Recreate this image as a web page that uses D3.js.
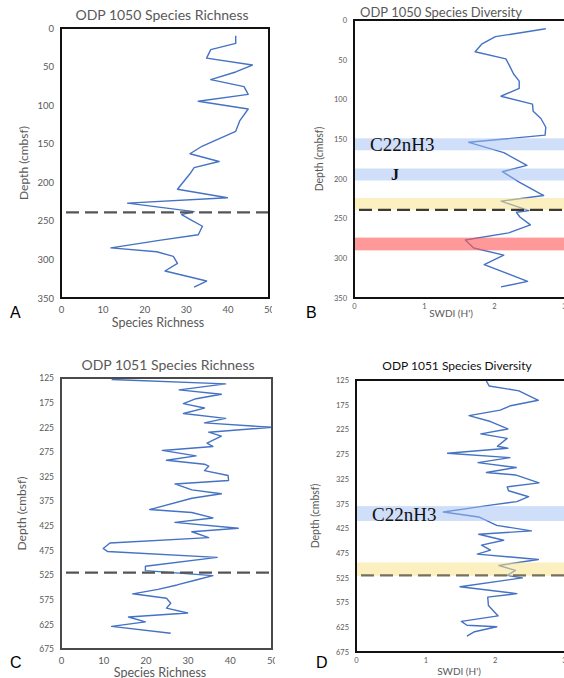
<!DOCTYPE html>
<html>
<head>
<meta charset="utf-8">
<script src="https://cdn.jsdelivr.net/npm/d3@7"></script>
<style>
  body { margin: 0; background: #fff; }
  svg { display: block; }
</style>
</head>
<body>
<svg id="chart" width="564" height="678"></svg>
<script>
// ODP 1050 species richness (depth in cmbsf, value = number of species)
var rich1050Depth = [10, 20, 28, 39, 48, 57, 67, 76, 86, 95, 105, 120, 134, 153, 163, 173, 181, 189, 209, 220, 227, 238, 242, 248, 257, 268, 275, 285, 290, 296, 305, 315, 328, 336];
var rich1050Value = [42, 42, 36, 35, 46, 42, 36, 44, 45, 33, 45, 43, 42, 34, 31, 38, 32, 31, 28, 40, 16, 32, 29, 31, 34, 33, 24, 12, 23, 27, 28, 25, 35, 32];

// ODP 1050 species diversity (SWDI H')
var div1050Depth = [11, 21, 30, 40, 49, 59, 68, 77, 86, 96, 106, 115, 124, 135, 145, 154, 167, 183, 191, 204, 221, 228, 240, 242, 248, 258, 268, 277, 287, 296, 308, 329, 336];
var div1050Value = [2.74, 2.02, 1.83, 1.73, 2.17, 2.23, 2.28, 2.36, 2.36, 2.10, 2.55, 2.56, 2.67, 2.74, 2.73, 1.64, 2.14, 2.47, 2.12, 2.36, 2.71, 2.10, 2.50, 2.32, 2.37, 2.52, 2.21, 1.59, 1.71, 2.14, 1.86, 2.48, 2.10];

// ODP 1051 species richness
var rich1051Depth = [128, 137, 149, 158, 167, 177, 186, 197, 207, 216, 225, 235, 243, 257, 264, 272, 283, 292, 300, 304, 313, 323, 333, 340, 352, 360, 369, 392, 398, 409, 418, 430, 437, 449, 460, 471, 477, 489, 507, 516, 526, 535, 545, 554, 563, 572, 582, 592, 602, 610, 620, 629, 643];
var rich1051Value = [12, 39, 28, 38, 32, 29, 34, 29, 39, 34, 50, 35, 38, 34.6, 36, 24, 32, 25, 34, 35, 34, 39.6, 39.7, 27, 31, 38, 31, 21, 31, 36, 27, 42, 31, 35, 11.6, 10, 11, 37, 20, 20, 36, 32, 27.5, 23, 17, 25, 26, 25, 30, 16, 20, 12, 26];

// ODP 1051 species diversity
var div1051Depth = [127, 137, 147, 166, 177, 186, 197, 209, 224, 234, 243, 259, 263, 273, 282, 292, 302, 312, 317, 333, 341, 349, 361, 371, 378, 392, 402, 419, 430, 437, 449, 459, 469, 477, 488, 500, 510, 520, 525, 543, 557, 564, 581, 602, 613, 621, 624, 634, 643];
var div1051Value = [1.88, 1.92, 2.35, 2.63, 2.23, 2.08, 1.63, 1.94, 2.19, 1.80, 2.18, 2.04, 2.19, 1.32, 2.22, 1.76, 2.31, 1.88, 2.30, 2.64, 2.18, 2.20, 2.49, 2.32, 1.94, 1.26, 1.77, 2.03, 2.53, 1.77, 2.13, 1.81, 1.94, 1.75, 2.63, 2.06, 2.30, 2.18, 2.40, 1.50, 2.32, 1.90, 1.91, 2.05, 1.52, 1.60, 2.03, 1.71, 1.60];

// axis ticks
var depthTicks1050 = [0, 50, 100, 150, 200, 250, 300, 350];
var depthTicks1051 = [125, 175, 225, 275, 325, 375, 425, 475, 525, 575, 625, 675];
var richTicks = [0, 10, 20, 30, 40, 50];
var divTicks = [0, 1, 2, 3];

// shaded intervals [top, bottom] and boundary depths
var bands1050 = [[149, 164, "blue"], [187, 202, "blue"], [224, 239, "yellow"], [274, 290, "red"]];
var bandLabels1050 = [["C22nH3", 157], ["J", 195]];
var bands1051 = [[380, 410, "blue"], [494, 521, "yellow"]];
var bandLabels1051 = [["C22nH3", 396]];
var boundary1050 = 239;
var boundary1051 = 520;

var bandColor = { blue: "rgba(160,190,243,0.5)", yellow: "rgba(251,228,140,0.55)", red: "rgba(255,90,90,0.62)" };
var lineBlue = "#4472c4";
var svg = d3.select("#chart");

function drawPanel(o) {
  var g = svg.append("g");
  if (o.clip) {
    svg.append("clipPath").attr("id", o.id + "clip")
      .append("rect").attr("x", 0).attr("y", 0).attr("width", o.clip).attr("height", 678);
    g.attr("clip-path", "url(#" + o.id + "clip)");
  }
  var x = d3.scaleLinear().domain(o.xDomain).range([o.left, o.right]);
  var y = d3.scaleLinear().domain(o.yDomain).range([o.top, o.bottom]);

  // y axis labels
  var ya = g.append("g").attr("transform", "translate(" + (o.left - 7) + ",0)")
    .call(d3.axisLeft(y).tickValues(o.yTicks).tickSize(0).tickPadding(0));
  ya.select(".domain").remove();
  ya.selectAll("text").attr("fill", "#595959").style("font-family", "Lato, sans-serif").style("font-size", o.yTickSize + "px");

  // x axis labels
  var xa = g.append("g").attr("transform", "translate(0," + (o.bottom + o.xTickGap) + ")")
    .call(d3.axisBottom(x).tickValues(o.xTicks).tickFormat(d3.format("d")).tickSize(0).tickPadding(0));
  xa.select(".domain").remove();
  xa.selectAll("text").attr("fill", "#595959").style("font-family", "Lato, sans-serif").style("font-size", o.xTickSize + "px");

  var pts = o.depth.map(function (d, i) { return [o.values[i], d]; });
  g.append("path").datum(pts)
    .attr("fill", "none").attr("stroke", lineBlue).attr("stroke-width", 1.4)
    .attr("stroke-linejoin", "round")
    .attr("d", d3.line().x(function (d) { return x(d[0]); }).y(function (d) { return y(d[1]); }));

  (o.bands || []).forEach(function (b) {
    g.append("rect").attr("x", o.left).attr("width", o.right - o.left + 4)
      .attr("y", y(b[0])).attr("height", y(b[1]) - y(b[0]))
      .attr("fill", bandColor[b[2]]);
  });
  (o.bandLabels || []).forEach(function (l) {
    g.append("text").attr("x", l[0] == "J" ? o.left + 37 : o.left + 16).attr("y", y(l[1]))
      .attr("dy", "0.35em").attr("fill", "#111")
      .style("font-family", "'Liberation Serif', 'DejaVu Serif', serif")
      .style("font-size", l[0] == "J" ? "16px" : "19px")
      .style("font-weight", l[0] == "J" ? "bold" : "normal")
      .text(l[0]);
  });

  g.append("line").attr("x1", o.left + 5).attr("x2", o.right + 4)
    .attr("y1", y(o.boundary)).attr("y2", y(o.boundary))
    .attr("stroke", o.dashColor).attr("stroke-width", 2.4).attr("stroke-dasharray", "13,6");

  g.append("rect").attr("x", o.left).attr("y", o.top)
    .attr("width", o.frameW).attr("height", o.bottom - o.top)
    .attr("fill", "none").attr("stroke", o.frameColor).attr("stroke-width", 2);

  g.append("text").attr("x", o.titleX).attr("y", o.titleY).attr("text-anchor", "middle")
    .attr("fill", o.titleColor).style("font-family", "Lato, sans-serif").style("font-size", o.titleSize + "px")
    .text(o.title);

  g.append("text").attr("transform", "translate(" + o.yLabelX + "," + ((o.top + o.bottom) / 2) + ") rotate(-90)")
    .attr("text-anchor", "middle").attr("fill", "#595959")
    .style("font-family", "Lato, sans-serif").style("font-size", o.yLabelSize + "px")
    .text("Depth (cmbsf)");

  g.append("text").attr("x", o.xLabelX).attr("y", o.xLabelY).attr("text-anchor", "middle")
    .attr("fill", "#595959").style("font-family", "Lato, sans-serif").style("font-size", o.xLabelSize + "px")
    .text(o.xLabel);

  g.append("text").attr("x", o.letterX).attr("y", o.letterY).attr("fill", "#000")
    .style("font-family", "'Liberation Sans', Arial, sans-serif").style("font-size", "16px")
    .text(o.letter);
}

drawPanel({
  id: "a", clip: 272, depth: rich1050Depth, values: rich1050Value,
  xDomain: [0, 50], yDomain: [0, 350], left: 61, right: 269, top: 28, bottom: 298, frameW: 208,
  yTicks: depthTicks1050, xTicks: richTicks, yTickSize: 9.5, xTickSize: 9.5, xTickGap: 8,
  boundary: boundary1050, dashColor: "#555", frameColor: "#111",
  title: "ODP 1050 Species Richness", titleX: 162, titleY: 20, titleColor: "#595959", titleSize: 14,
  yLabelX: 28, yLabelSize: 12, xLabel: "Species Richness", xLabelX: 158, xLabelY: 327, xLabelSize: 12.5,
  letter: "A", letterX: 10, letterY: 318
});

drawPanel({
  id: "b", depth: div1050Depth, values: div1050Value,
  xDomain: [0, 3], yDomain: [0, 350], left: 354, right: 564, top: 20, bottom: 298, frameW: 214,
  yTicks: depthTicks1050, xTicks: divTicks, yTickSize: 7.5, xTickSize: 7.5, xTickGap: 6,
  bands: bands1050, bandLabels: bandLabels1050,
  boundary: boundary1050, dashColor: "#3d3a33", frameColor: "#111",
  title: "ODP 1050 Species Diversity", titleX: 441, titleY: 17, titleColor: "#595959", titleSize: 13,
  yLabelX: 323, yLabelSize: 10.5, xLabel: "SWDI (H')", xLabelX: 451, xLabelY: 317, xLabelSize: 10,
  letter: "B", letterX: 306, letterY: 318
});

drawPanel({
  id: "c", clip: 275, depth: rich1051Depth, values: rich1051Value,
  xDomain: [0, 50], yDomain: [125, 675], left: 61, right: 272, top: 378, bottom: 649, frameW: 211,
  yTicks: depthTicks1051, xTicks: richTicks, yTickSize: 8.5, xTickSize: 9.5, xTickGap: 8,
  boundary: boundary1051, dashColor: "#555", frameColor: "#4a4a4a",
  title: "ODP 1051 Species Richness", titleX: 168, titleY: 370, titleColor: "#595959", titleSize: 14,
  yLabelX: 26, yLabelSize: 12, xLabel: "Species Richness", xLabelX: 160, xLabelY: 677, xLabelSize: 12.5,
  letter: "C", letterX: 10, letterY: 668
});

drawPanel({
  id: "d", depth: div1051Depth, values: div1051Value,
  xDomain: [0, 3], yDomain: [125, 675], left: 356, right: 564, top: 380, bottom: 652, frameW: 212,
  yTicks: depthTicks1051, xTicks: divTicks, yTickSize: 7.5, xTickSize: 7.5, xTickGap: 6,
  bands: bands1051, bandLabels: bandLabels1051,
  boundary: boundary1051, dashColor: "#77705a", frameColor: "#111",
  title: "ODP 1051 Species Diversity", titleX: 457, titleY: 370, titleColor: "#111", titleSize: 12,
  yLabelX: 319, yLabelSize: 10.5, xLabel: "SWDI (H')", xLabelX: 459, xLabelY: 675, xLabelSize: 10,
  letter: "D", letterX: 316, letterY: 668
});
</script>
</body>
</html>
